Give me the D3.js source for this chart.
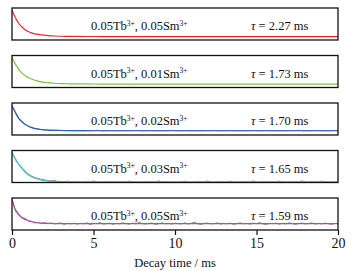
<!DOCTYPE html>
<html>
<head>
<meta charset="utf-8">
<script src="https://cdn.jsdelivr.net/npm/d3@7"></script>
<style>
  body { margin: 0; background: #fff; }
</style>
</head>
<body>
<div class="chart"></div>
<script>
// size setup
var width = 357;
var height = 271;
var left = 12, right = 338;
var panelTop = 8, panelStep = 47.5, panelH = 32;
var serif = "Liberation Serif";

// panel labels
var tbConc = ["0.05", "0.05", "0.05", "0.05", "0.05"];
var smConc = ["0.05", "0.01", "0.02", "0.03", "0.05"];
var lifetimes = ["2.27", "1.73", "1.70", "1.65", "1.59"];
var colors = ["#f0282d", "#7cc143", "#2d5fb5", "#4ec4d2", "#a851b0"];

// fitted decay curves (normalised intensity)
var fitTimes = [0, 0.1, 0.2, 0.3, 0.4, 0.5, 0.6, 0.8, 1.0, 1.2, 1.5, 1.8, 2.2, 2.6, 3.0, 3.5, 4, 5, 6, 8, 10, 12, 14, 16, 18, 20];
var fit1 = [1.0, 0.85, 0.72, 0.61, 0.51, 0.43, 0.37, 0.26, 0.19, 0.14, 0.09, 0.06, 0.035, 0.02, 0.012, 0.007, 0.004, 0.001, 0, 0, 0, 0, 0, 0, 0, 0];
var fit2 = [1.0, 0.87, 0.76, 0.66, 0.56, 0.48, 0.42, 0.32, 0.25, 0.19, 0.13, 0.085, 0.05, 0.03, 0.018, 0.01, 0.005, 0.002, 0, 0, 0, 0, 0, 0, 0, 0];
var fit3 = [0.96, 0.84, 0.72, 0.61, 0.5, 0.43, 0.37, 0.27, 0.2, 0.15, 0.1, 0.075, 0.055, 0.045, 0.04, 0.035, 0.033, 0.03, 0.03, 0.03, 0.03, 0.03, 0.03, 0.03, 0.03, 0.03];
var fit4 = [0.99, 0.86, 0.75, 0.64, 0.55, 0.47, 0.40, 0.26, 0.15, 0.08, 0.01, -0.04, -0.075, -0.095, -0.105, -0.11, -0.11, -0.11, -0.11, -0.11, -0.11, -0.11, -0.11, -0.11, -0.11, -0.11];
var fit5 = [1.02, 0.80, 0.62, 0.52, 0.45, 0.39, 0.34, 0.27, 0.22, 0.18, 0.15, 0.13, 0.12, 0.115, 0.11, 0.11, 0.11, 0.11, 0.11, 0.11, 0.11, 0.11, 0.11, 0.11, 0.11, 0.11];

// measured traces, every 0.2 ms (panels 3-5, the others sit under the fit)
var rawTimes = d3.range(101).map(i => +(i * 0.2).toFixed(1));
var raw3 = [0.98, 0.75, 0.53, 0.39, 0.29, 0.21, 0.16, 0.12, 0.10, 0.08, 0.065, 0.06, 0.05, 0.05, 0.045, 0.04, 0.04, 0.035, 0.03, 0.035, 0.03,
  0.03, 0.025, 0.035, 0.03, 0.03, 0.05, 0.03, 0.025, 0.03, 0.035,
  0.03, 0.03, 0.025, 0.03, 0.035, 0.03, 0.03, 0.045, 0.03, 0.025,
  0.03, 0.035, 0.03, 0.03, 0.025, 0.03, 0.03, 0.03, 0.05, 0.03,
  0.025, 0.03, 0.035, 0.03, 0.03, 0.03, 0.025, 0.03, 0.03, 0.035,
  0.03, 0.045, 0.03, 0.025, 0.03, 0.03, 0.035, 0.03, 0.03, 0.025,
  0.03, 0.03, 0.03, 0.045, 0.03, 0.025, 0.03, 0.035, 0.03, 0.03,
  0.03, 0.025, 0.03, 0.03, 0.03, 0.035, 0.03, 0.05, 0.03, 0.025,
  0.03, 0.03, 0.035, 0.03, 0.03, 0.025, 0.03, 0.03, 0.045, 0.03];
var raw4 = [1.0, 0.78, 0.58, 0.44, 0.31, 0.19, 0.12, 0.06, 0.02, -0.01, -0.03, -0.06, -0.07, -0.05, -0.09, -0.09, -0.10, -0.08, -0.10, -0.11, -0.10,
  -0.11, -0.12, -0.10, -0.11, -0.07, -0.11, -0.12, -0.11, -0.10, -0.11,
  -0.11, -0.10, -0.12, -0.11, -0.11, -0.08, -0.11, -0.10, -0.12, -0.11,
  -0.10, -0.11, -0.11, -0.12, -0.07, -0.11, -0.10, -0.11, -0.11, -0.12,
  -0.11, -0.10, -0.08, -0.11, -0.12, -0.11, -0.10, -0.11, -0.11, -0.07,
  -0.11, -0.12, -0.10, -0.11, -0.11, -0.10, -0.08, -0.11, -0.12, -0.11,
  -0.10, -0.11, -0.11, -0.07, -0.11, -0.12, -0.10, -0.11, -0.11, -0.10,
  -0.11, -0.08, -0.11, -0.12, -0.11, -0.10, -0.11, -0.11, -0.07, -0.11,
  -0.12, -0.10, -0.11, -0.11, -0.08, -0.11, -0.10, -0.12, -0.11, -0.11];
var raw5 = [1.03, 0.66, 0.50, 0.33, 0.31, 0.21, 0.20, 0.14, 0.16, 0.11, 0.15, 0.10, 0.13, 0.09, 0.12, 0.14, 0.08, 0.12, 0.10, 0.13, 0.09,
  0.12, 0.10, 0.14, 0.07, 0.12, 0.11, 0.15, 0.09, 0.11, 0.13,
  0.08, 0.12, 0.10, 0.14, 0.11, 0.09, 0.13, 0.10, 0.16, 0.11,
  0.09, 0.12, 0.13, 0.08, 0.11, 0.14, 0.10, 0.12, 0.09, 0.13,
  0.11, 0.10, 0.14, 0.09, 0.12, 0.17, 0.10, 0.08, 0.12, 0.13,
  0.10, 0.11, 0.14, 0.09, 0.12, 0.10, 0.13, 0.08, 0.11, 0.14,
  0.10, 0.12, 0.09, 0.13, 0.11, 0.15, 0.10, 0.08, 0.12, 0.11,
  0.13, 0.09, 0.12, 0.10, 0.14, 0.11, 0.08, 0.12, 0.13, 0.10,
  0.11, 0.14, 0.09, 0.12, 0.10, 0.13, 0.11, 0.08, 0.12, 0.11];

var xTicks = [0, 5, 10, 15, 20];

var fits = [fit1, fit2, fit3, fit4, fit5];
var raws = [null, null, raw3, raw4, raw5];

var svg = d3.select(".chart")
            .append("svg")
            .attr("width", width)
            .attr("height", height);

const xScale = d3.scaleLinear()
                 .domain([0, 20])
                 .range([left, right]);

fits.forEach((fit, i) => {
  var top = panelTop + i * panelStep;
  var bottom = top + panelH;
  const yScale = d3.scaleLinear()
                   .domain([-0.13, 1.075])
                   .range([bottom, top]);
  var g = svg.append("g");

  g.append("clipPath")
   .attr("id", "clip" + i)
   .append("rect")
   .attr("x", left).attr("y", top - 1)
   .attr("width", right - left).attr("height", panelH + 2);

  var line = d3.line()
               .x(d => xScale(d[0]))
               .y(d => yScale(d[1]));

  if (raws[i]) {
    g.append("path")
     .datum(rawTimes.map((t, j) => [t, raws[i][j]]))
     .attr("d", line)
     .attr("fill", "none")
     .attr("stroke", "#333")
     .attr("stroke-width", 0.6)
     .attr("clip-path", "url(#clip" + i + ")");
  }

  g.append("path")
   .datum(fitTimes.map((t, j) => [t, fit[j]]))
   .attr("d", line.curve(d3.curveMonotoneX))
   .attr("fill", "none")
   .attr("stroke", colors[i])
   .attr("stroke-width", 1.2)
   .attr("clip-path", "url(#clip" + i + ")");

  g.append("rect")
   .attr("x", left).attr("y", top)
   .attr("width", right - left).attr("height", panelH)
   .attr("fill", "none")
   .attr("stroke", "#111")
   .attr("stroke-width", 1.3);

  // sample label
  var lab = g.append("text")
             .attr("x", left + 79)
             .attr("y", top + 22)
             .attr("font-family", serif)
             .attr("font-size", 12.5)
             .attr("fill", "#111");
  lab.append("tspan").text(tbConc[i] + "Tb");
  lab.append("tspan").attr("dy", -4.5).attr("font-size", 7.5).text("3+");
  lab.append("tspan").attr("dy", 4.5).text(", " + smConc[i] + "Sm");
  lab.append("tspan").attr("dy", -4.5).attr("font-size", 7.5).text("3+");

  // lifetime
  var tau = g.append("text")
             .attr("x", left + 239)
             .attr("y", top + 22)
             .attr("font-family", serif)
             .attr("font-size", 12.5)
             .attr("fill", "#111");
  tau.append("tspan").attr("font-style", "italic").text("\u03c4");
  tau.append("tspan").text(" = " + lifetimes[i] + " ms");
});

// x axis under the last panel
var lastBottom = panelTop + 4 * panelStep + panelH;
const xAxis = d3.axisBottom(xScale)
                .tickValues(xTicks)
                .tickSize(5)
                .tickSizeOuter(0)
                .tickPadding(3)
                .tickFormat(d3.format("d"));

var ax = svg.append("g")
            .attr("id", "x-axis")
            .attr("transform", "translate(0," + lastBottom + ")")
            .call(xAxis)
            .attr("font-family", serif)
            .attr("font-size", 14);
ax.select(".domain").remove();
ax.selectAll("line").attr("stroke", "#111").attr("stroke-width", 1.2);
ax.selectAll("text").attr("fill", "#111");

svg.append("text")
   .attr("x", (left + right) / 2)
   .attr("y", 267)
   .attr("text-anchor", "middle")
   .attr("font-family", serif)
   .attr("font-size", 12.5)
   .attr("fill", "#111")
   .text("Decay time / ms");
</script>
</body>
</html>
